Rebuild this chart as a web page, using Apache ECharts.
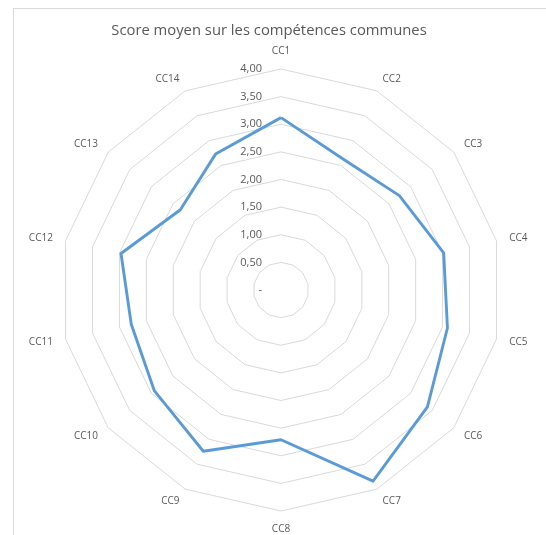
<!DOCTYPE html>
<html>
<head>
<meta charset="utf-8">
<script src="https://cdn.jsdelivr.net/npm/echarts@6/dist/echarts.min.js"></script>
<style>
html,body{margin:0;padding:0;background:#fff;overflow:hidden;}
#frame{position:absolute;left:13px;top:8px;width:600px;height:600px;border:1px solid #d9d9d9;box-sizing:border-box;}
#chart{position:absolute;left:0;top:0;width:546px;height:535px;}
</style>
</head>
<body>
<div id="frame"></div>
<div id="chart"></div>
<script>
const titleText = 'Score moyen sur les compétences communes';
const categories = ['CC1','CC2','CC3','CC4','CC5','CC6','CC7','CC8','CC9','CC10','CC11','CC12','CC13','CC14'];
const scores = [3.12, 2.62, 2.74, 3.02, 3.09, 3.39, 3.84, 2.71, 3.24, 2.93, 2.78, 2.97, 2.33, 2.73];
const axisMax = 4;
const axisStep = 0.5;

// clockwise order: CC1 first, then the rest reversed (ECharts radar runs counter-clockwise)
const order = [0].concat(categories.map((c, i) => i).slice(1).reverse());
const indicators = order.map((i, k) => {
  const ind = { name: categories[i], max: axisMax, min: 0 };
  if (k === 0) {
    ind.axisLabel = {
      show: true,
      color: '#595959',
      fontSize: 11,
      fontFamily: 'Open Sans',
      margin: 19,
      formatter: v => v === 0 ? '-' : v.toFixed(2).replace('.', ',')
    };
  }
  return ind;
});
const values = order.map(i => scores[i]);

const chart = echarts.init(document.getElementById('chart'), null, { renderer: 'canvas' });
chart.setOption({
  animation: false,
  title: {
    text: titleText,
    left: 264, top: 18, textAlign: 'center',
    textStyle: { color: '#595959', fontSize: 14.8, fontWeight: 'normal', fontFamily: 'Open Sans' }
  },
  radar: {
    center: [281, 290],
    radius: 221,
    startAngle: 90,
    shape: 'polygon',
    splitNumber: axisMax / axisStep,
    nameGap: 13,
    axisName: { color: '#595959', fontSize: 10, fontFamily: 'Open Sans' },
    axisLine: { show: false },
    axisTick: { show: false },
    axisLabel: { show: false },
    splitArea: { show: false },
    splitLine: { lineStyle: { color: '#d9d9d9', width: 1 } },
    indicator: indicators
  },
  series: [{
    type: 'radar',
    symbol: 'none',
    lineStyle: { color: '#5b9bd5', width: 2.9 },
    data: [{ value: values, name: 'Score' }]
  }]
});
</script>
</body>
</html>
